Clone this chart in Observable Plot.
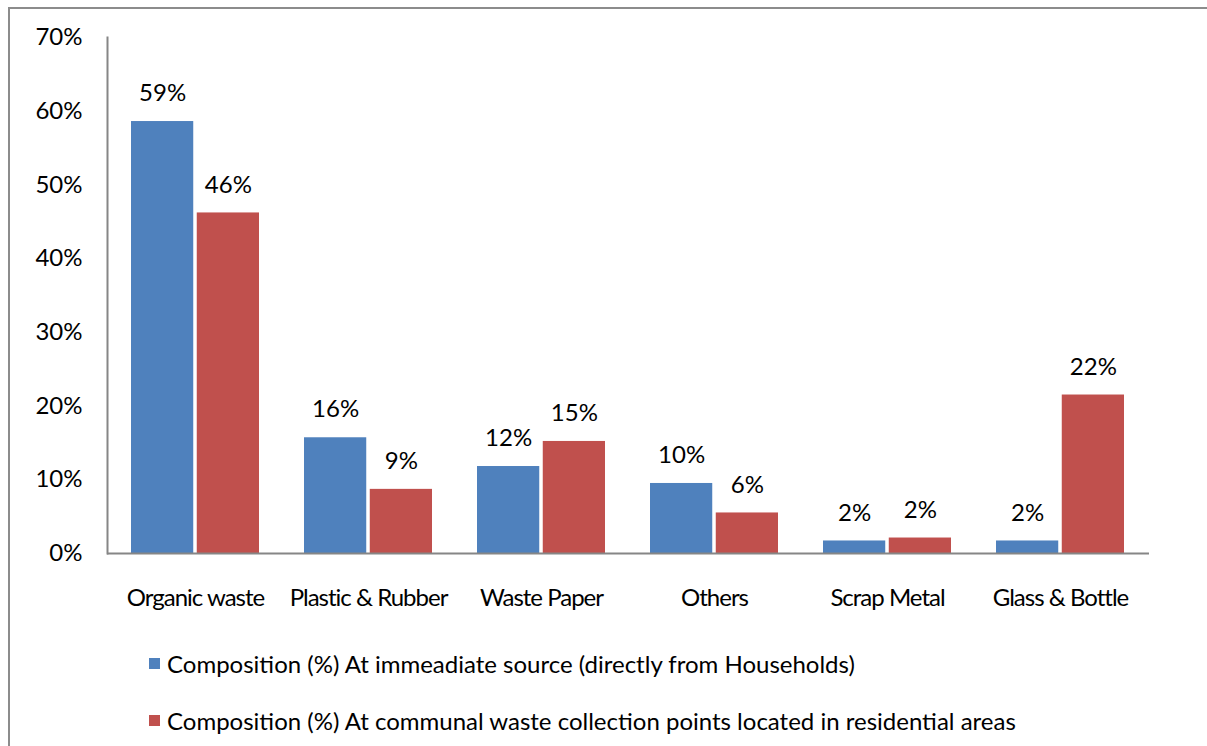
<!DOCTYPE html>
<html>
<head>
<meta charset="utf-8">
<script src="https://cdn.jsdelivr.net/npm/d3@7"></script>
<script src="https://cdn.jsdelivr.net/npm/@observablehq/plot@0.6"></script>
<style>
  html, body { margin: 0; padding: 0; background: #fff; }
  body { width: 1207px; height: 746px; position: relative; overflow: hidden;
         font-family: Lato, "Open Sans", sans-serif; }
  #frame { position: absolute; left: 8px; top: 7px; width: 1199px; height: 739px;
           border-left: 2px solid #8c8c8c; border-top: 2px solid #8c8c8c; box-sizing: border-box; }
  #chart { position: absolute; left: 0; top: 0; }
  #chart g[aria-label="x-axis tick label"] { letter-spacing: -1px; }
  #legend { position: absolute; left: 149px; top: 644px; font-size: 24px; color: #000; }
  .row { display: flex; align-items: center; height: 38px; margin-bottom: 19px; }
  .sw { width: 11px; height: 11px; margin-right: 7px; }
</style>
</head>
<body>
<div id="frame"></div>
<div id="chart"></div>
<div id="legend"></div>
<script>
const categories = ["Organic waste", "Plastic & Rubber", "Waste Paper", "Others", "Scrap Metal", "Glass & Bottle"];
const seriesNames = [
  "Composition (%) At immeadiate source (directly from Households)",
  "Composition (%) At communal waste collection points located in residential areas"
];
const sourceValues = [58.6, 15.7, 11.8, 9.5, 1.7, 1.7];
const communalValues = [46.2, 8.7, 15.2, 5.5, 2.1, 21.5];
const yTicks = [0, 10, 20, 30, 40, 50, 60, 70];
const colors = ["#4F81BD", "#C0504D"];

const W = 1207, H = 620;
const mL = 107, mR = 58, mT = 37, mB = 67;
const pInner = 0.26, pOuter = 0.13;
const bw = ((W - mL - mR) / categories.length) * (1 - pInner);
const half = bw / 2;

const src = categories.map((c, i) => ({cat: c, v: sourceValues[i]}));
const com = categories.map((c, i) => ({cat: c, v: communalValues[i]}));
const fmt = d => Math.round(d.v) + "%";

const chart = Plot.plot({
  width: W, height: H,
  marginLeft: mL, marginRight: mR, marginTop: mT, marginBottom: mB,
  style: {fontFamily: "Lato, 'Open Sans', sans-serif", fontSize: "24px", color: "#000", background: "transparent"},
  x: {domain: categories, paddingInner: pInner, paddingOuter: pOuter, label: null},
  y: {domain: [0, 70], label: null},
  marks: [
    Plot.axisX({tickSize: 0, tickPadding: 35, fontSize: 24, label: null}),
    Plot.axisY({ticks: yTicks, tickSize: 0, tickPadding: 25, fontSize: 24, tickFormat: d => d + "%", label: null}),
    Plot.barY(src, {x: "cat", y: "v", fill: colors[0], insetRight: half + 1.5}),
    Plot.barY(com, {x: "cat", y: "v", fill: colors[1], insetLeft: half + 1.5}),
    Plot.text(src, {x: "cat", y: "v", text: fmt, dx: -(half / 2 + 0.75), dy: -28, fontSize: 24, fill: "#000"}),
    Plot.text(com, {x: "cat", y: "v", text: fmt, dx: (half / 2 + 0.75), dy: -28, fontSize: 24, fill: "#000"}),
    Plot.frame({anchor: "left", stroke: "#868686", strokeWidth: 2}),
    Plot.ruleY([0], {stroke: "#868686", strokeWidth: 2})
  ]
});
document.getElementById("chart").appendChild(chart);

const legend = document.getElementById("legend");
seriesNames.forEach((name, i) => {
  const row = document.createElement("div");
  row.className = "row";
  const sw = document.createElement("div");
  sw.className = "sw";
  sw.style.background = colors[i];
  const t = document.createElement("span");
  t.textContent = name;
  row.appendChild(sw);
  row.appendChild(t);
  legend.appendChild(row);
});
</script>
</body>
</html>
